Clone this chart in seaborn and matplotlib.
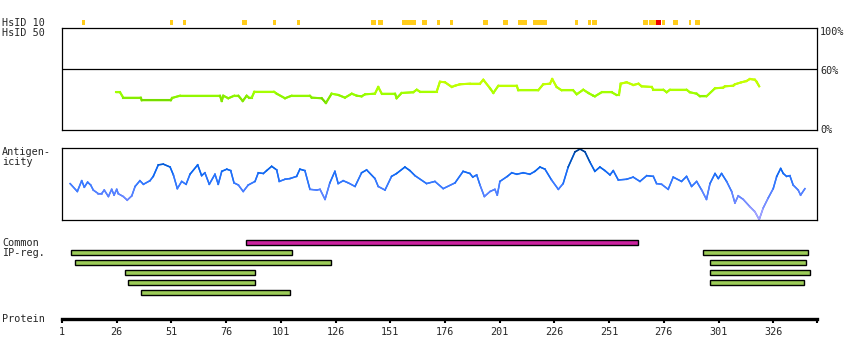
import matplotlib
matplotlib.use('Agg')
import matplotlib.pyplot as plt
import numpy as np
import pandas as pd
import seaborn as sns
from matplotlib.collections import LineCollection
from matplotlib.colors import LinearSegmentedColormap, Normalize

# Dados
protein_length = 346
tick_positions = [1, 26, 51, 76, 101, 126, 151, 176, 201, 226, 251, 276, 301, 326]

# HsID 10: residuos marcados (amarelo) e o pico (vermelho)
hsid10_yellow = [11, 51, 57, 84, 85, 98, 109, 143, 144, 146, 147, 157, 158, 159, 160,
                 161, 162, 166, 167, 173, 179, 194, 195, 203, 204, 210, 211, 212, 213,
                 217, 218, 219, 220, 221, 222, 236, 242, 244, 245, 267, 268, 270, 271,
                 272, 276, 281, 282, 288, 291, 292]
hsid10_red = [273, 274]

# HsID 50 (% identidade)
hsid50_res = [25.7, 27.5, 29.0, 37.0, 37.4, 50.7, 51.3, 54.9, 73.2, 74.0, 74.7, 77.0,
              79.7, 81.6, 83.6, 85.4, 86.4, 87.7, 88.9, 97.9, 99.1, 102.9, 105.9, 114.3,
              115.1, 119.7, 121.6, 124.2, 127.3, 130.3, 133.4, 135.7, 137.9, 139.5, 144.0,
              145.5, 147.1, 153.2, 153.9, 156.2, 161.5, 163.1, 164.6, 172.2, 173.7, 176.0,
              179.1, 180.6, 182.8, 187.4, 192.0, 193.5, 196.6, 198.1, 200.4, 208.8, 209.5,
              218.6, 220.9, 224.0, 225.0, 227.0, 229.3, 234.6, 236.2, 239.2, 241.5, 243.8,
              244.5, 247.6, 252.2, 254.4, 255.5, 256.3, 259.0, 262.1, 264.4, 265.9, 270.5,
              271.2, 275.8, 277.3, 278.8, 286.4, 287.9, 291.0, 292.5, 295.5, 299.4, 303.1,
              303.9, 307.7, 308.5, 311.5, 313.8, 315.3, 317.6, 318.4, 319.6]
hsid50_val = [37.3, 37.3, 32.0, 32.0, 29.4, 29.4, 31.7, 33.9, 33.9, 28.7, 33.9, 31.4,
              33.9, 33.9, 28.7, 33.9, 32.0, 32.0, 37.8, 37.8, 35.9, 31.4, 33.9, 33.9,
              32.0, 31.4, 26.8, 35.9, 34.6, 32.0, 35.9, 33.9, 33.3, 35.3, 35.9,
              42.5, 35.9, 35.9, 31.4, 36.6, 37.3, 39.8, 37.8, 37.8, 47.6, 47.1,
              42.5, 43.7, 45.1, 45.7, 45.7, 49.6, 41.2, 36.6, 43.7, 43.7, 39.2,
              39.2, 45.1, 45.7, 50.3, 42.5, 39.2, 39.2, 35.3, 39.8, 36.6, 33.9,
              33.3, 37.3, 37.3, 34.6, 34.6, 45.7, 47.1, 44.4, 45.7, 43.1, 42.5,
              39.8, 39.8, 37.3, 39.8, 39.8, 37.3, 35.9, 33.3, 33.3, 41.2, 41.8,
              43.1, 43.7, 45.1, 47.1, 48.3, 50.3, 49.6, 47.6, 43.1]

# Antigenicidade (escala relativa 0-1)
antig_res = [4.7, 8.0, 10.0, 11.2, 12.7, 14.1, 15.3, 17.6, 19.1, 20.3, 22.2, 23.7, 24.8,
             26.0, 26.7, 29.0, 30.8, 32.9, 34.4, 36.6, 38.2, 41.2, 42.7, 45.0, 47.3, 50.4,
             51.9, 53.7, 55.7, 57.7, 59.5, 63.0, 64.8, 66.3, 68.3, 70.9, 72.4, 74.0, 76.3,
             78.1, 79.6, 81.6, 83.8, 86.1, 89.2, 90.7, 93.0, 94.5, 96.8, 99.1, 100.3, 102.9,
             105.2, 108.2, 109.7, 112.0, 114.3, 117.4, 118.9, 121.2, 123.4, 125.7, 127.2,
             129.5, 131.8, 134.9, 137.9, 140.2, 144.0, 145.5, 148.6, 151.6, 153.9, 157.7,
             160.0, 162.3, 167.6, 171.4, 175.2, 180.6, 184.3, 187.4, 188.7, 190.5, 192.0,
             194.0, 196.6, 198.8, 199.9, 201.1, 204.5, 206.5, 208.8, 211.8, 214.8, 217.1,
             219.4, 221.7, 224.7, 227.8, 230.0, 232.3, 235.4, 237.7, 240.0, 242.2, 244.5,
             246.8, 249.1, 251.4, 252.9, 255.2, 259.0, 262.0, 265.1, 268.2, 271.2, 272.7,
             275.0, 278.0, 280.3, 284.1, 286.4, 288.7, 291.0, 293.3, 295.5, 297.1, 299.4,
             300.9, 302.4, 304.7, 307.0, 308.5, 310.0, 312.3, 315.3, 317.6, 319.6, 321.4,
             323.7, 326.0, 327.6, 329.4, 330.6, 332.1, 333.6, 335.1, 337.4, 338.5, 340.5]
antig_val = [0.51, 0.40, 0.55, 0.46, 0.53, 0.49, 0.42, 0.37, 0.37, 0.42, 0.33, 0.43, 0.35,
             0.43, 0.37, 0.33, 0.28, 0.34, 0.47, 0.55, 0.50, 0.55, 0.61, 0.77, 0.78, 0.74,
             0.63, 0.44, 0.54, 0.50, 0.64, 0.77, 0.62, 0.66, 0.50, 0.64, 0.50, 0.68, 0.71,
             0.69, 0.52, 0.49, 0.40, 0.49, 0.54, 0.66, 0.65, 0.69, 0.75, 0.70, 0.54, 0.57,
             0.58, 0.61, 0.71, 0.69, 0.43, 0.42, 0.43, 0.29, 0.52, 0.68, 0.51,
             0.55, 0.52, 0.47, 0.66, 0.70, 0.58, 0.47, 0.42, 0.61, 0.65, 0.74,
             0.69, 0.62, 0.51, 0.54, 0.44, 0.52, 0.68, 0.65, 0.60, 0.63, 0.49,
             0.33, 0.40, 0.43, 0.35, 0.54, 0.61, 0.66, 0.64, 0.66, 0.64, 0.68,
             0.74, 0.71, 0.56, 0.43, 0.51, 0.74, 0.95, 0.99, 0.95, 0.81, 0.68,
             0.74, 0.69, 0.63, 0.69, 0.56, 0.57, 0.60, 0.54, 0.62, 0.61, 0.51,
             0.50, 0.43, 0.60, 0.54, 0.61, 0.47, 0.54, 0.42, 0.29, 0.51, 0.65,
             0.58, 0.65, 0.54, 0.40, 0.24, 0.34, 0.29, 0.19, 0.12, 0.01, 0.17,
             0.31, 0.44, 0.61, 0.72, 0.65, 0.61, 0.62, 0.49, 0.42, 0.35, 0.44]

# Regioes IP comuns: linha, inicio, fim, tipo
ipreg_row = [0, 1, 1, 2, 2, 3, 3, 4, 4, 5]
ipreg_start = [85, 5, 294, 7, 297, 30, 297, 31, 297, 37]
ipreg_end = [264, 106, 342, 124, 341, 89, 343, 89, 340, 105]
ipreg_kind = ['common', 'ip', 'ip', 'ip', 'ip', 'ip', 'ip', 'ip', 'ip', 'ip']

W, H = 850, 360
X0, X1 = 62, 817


def rect(top, bottom, left=X0, right=X1):
    return [left / W, 1 - bottom / H, (right - left) / W, (bottom - top) / H]


def linha_colorida(ax, x, y, cmap, norm, lw):
    pts = np.column_stack([x, y])
    segs = np.stack([pts[:-1], pts[1:]], axis=1)
    mid = (np.array(y[:-1]) + np.array(y[1:])) / 2
    lc = LineCollection(segs, colors=cmap(norm(mid)), linewidths=lw, capstyle='projecting')
    ax.add_collection(lc)


sns.set_theme(style='white')
plt.rcParams['font.family'] = ['DejaVu Sans Mono']
FS = 7.3

fig = plt.figure(figsize=(W / 100, H / 100), dpi=100)
fig.patch.set_facecolor('white')

# HsID 10
ax10 = fig.add_axes(rect(19.5, 25))
ax10.bar(hsid10_yellow, 1, width=1.3, color='#ffcc1a', linewidth=0)
ax10.bar(hsid10_red, 1, width=1.3, color='#ee0000', linewidth=0)
ax10.set_xlim(1, protein_length)
ax10.set_ylim(0, 1)
ax10.axis('off')

# HsID 50
ax50 = fig.add_axes(rect(28.3, 130.3))
df50 = pd.DataFrame({'res': hsid50_res, 'val': hsid50_val})
sns.lineplot(data=df50, x='res', y='val', ax=ax50, color='#99ff00', linewidth=1.4)
cmap50 = LinearSegmentedColormap.from_list(
    'hsid', [(0, '#5cbf00'), (0.24, '#80e600'), (0.4, '#99ff00'), (0.7, '#bbff00'), (1, '#ccff00')])
linha_colorida(ax50, hsid50_res, hsid50_val, cmap50, Normalize(25, 50), 1.5)
ax50.axhline(60, color='black', linewidth=0.9)
ax50.set_xlim(1, protein_length)
ax50.set_ylim(0, 100)
ax50.set_xticks([])
ax50.set_yticks([])
ax50.set_xlabel('')
ax50.set_ylabel('')
for s in ax50.spines.values():
    s.set_color('black')
    s.set_linewidth(0.9)

# Antigenicidade
axag = fig.add_axes(rect(148.3, 220.3))
dfag = pd.DataFrame({'res': antig_res, 'val': antig_val})
sns.lineplot(data=dfag, x='res', y='val', ax=axag, color='#1a6cff', linewidth=1.0)
cmapag = LinearSegmentedColormap.from_list(
    'antig', [(0, '#b8a8ff'), (0.3, '#6f86ff'), (0.5, '#3a7aff'), (0.7, '#0a66f0'),
              (0.85, '#0052b8'), (1, '#003a80')])
linha_colorida(axag, antig_res, antig_val, cmapag, Normalize(0, 1), 1.1)
axag.set_xlim(1, protein_length)
axag.set_ylim(0, 1)
axag.set_xticks([])
axag.set_yticks([])
axag.set_xlabel('')
axag.set_ylabel('')
for s in axag.spines.values():
    s.set_color('black')
    s.set_linewidth(0.9)

# Regioes IP comuns
axip = fig.add_axes(rect(237.3, 297.3))
for r, a, b, k in zip(ipreg_row, ipreg_start, ipreg_end, ipreg_kind):
    cor = '#cc22a0' if k == 'common' else '#9ccc58'
    axip.barh(r, b - a, left=a, height=0.45, color=cor, edgecolor='black', linewidth=1.0)
axip.set_xlim(1, protein_length)
axip.set_ylim(5.5, -0.5)
axip.axis('off')

# Eixo da proteina
axp = fig.add_axes(rect(309, 319))
axp.set_xlim(1, protein_length)
axp.set_ylim(0, 1)
axp.set_yticks([])
for lado in ['top', 'left', 'right']:
    axp.spines[lado].set_visible(False)
axp.spines['bottom'].set_color('black')
axp.spines['bottom'].set_linewidth(2.4)
axp.set_xticks(tick_positions + [protein_length])
axp.set_xticklabels([str(t) for t in tick_positions] + [''], fontsize=FS)
axp.tick_params(axis='x', direction='out', length=3, width=1.5, color='black', pad=3,
                bottom=True)
axp.patch.set_alpha(0)

# Rotulos
def texto(x, y, s, **kw):
    fig.text(x / W, 1 - y / H, s, fontsize=FS, va='center', **kw)


texto(2, 22.5, 'HsID 10')
texto(2, 32.5, 'HsID 50')
texto(820, 32, '100%')
texto(820, 70.5, '60%')
texto(820, 130, '0%')
texto(2, 152, 'Antigen-')
texto(2, 162, 'icity')
texto(2, 242.5, 'Common')
texto(2, 253, 'IP-reg.')
texto(2, 319.5, 'Protein')

plt.savefig('out.png', dpi=100)
plt.close()
